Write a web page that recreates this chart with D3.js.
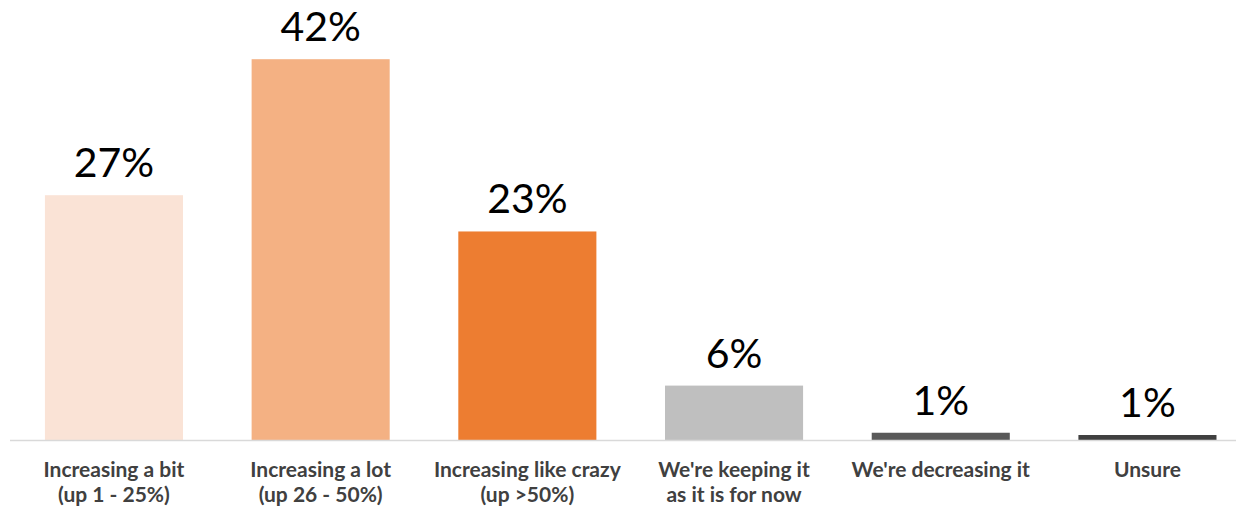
<!DOCTYPE html>
<html>
<head>
<meta charset="utf-8">
<script src="https://cdn.jsdelivr.net/npm/d3@7"></script>
<style>
  html, body { margin: 0; padding: 0; background: #fff; }
  svg { display: block; }
</style>
</head>
<body>
<svg id="chart" width="1236" height="508"></svg>
<script>
const categories = [
  ["Increasing a bit", "(up 1 - 25%)"],
  ["Increasing a lot", "(up 26 - 50%)"],
  ["Increasing like crazy", "(up >50%)"],
  ["We're keeping it", "as it is for now"],
  ["We're decreasing it"],
  ["Unsure"]
];
const values = [27, 42, 23, 6, 0.8, 0.55];
const valueLabels = ["27%", "42%", "23%", "6%", "1%", "1%"];
const colors = ["#FAE3D6", "#F4B183", "#ED7D31", "#BFBFBF", "#595959", "#404040"];

const svg = d3.select("#chart");
const keys = categories.map((c, i) => i);

const x = d3.scaleBand().domain(keys).range([10.6, 1250.8]).paddingInner(0.332).paddingOuter(0.166);
const y = d3.scaleLinear().domain([0, 45]).range([440, 32]);

svg.append("g").selectAll("rect").data(values).join("rect")
  .attr("x", (d, i) => x(i))
  .attr("width", x.bandwidth())
  .attr("y", d => y(d))
  .attr("height", d => y(0) - y(d))
  .attr("fill", (d, i) => colors[i]);

svg.append("line")
  .attr("x1", 10).attr("x2", 1236)
  .attr("y1", y(0) + 0.5).attr("y2", y(0) + 0.5)
  .attr("stroke", "#D9D9D9").attr("stroke-width", 1.5);

svg.append("g").selectAll("text").data(values).join("text")
  .attr("x", (d, i) => x(i) + x.bandwidth() / 2)
  .attr("y", d => y(d) - 18)
  .attr("text-anchor", "middle")
  .attr("font-family", "Lato, 'Noto Sans', sans-serif")
  .attr("font-size", 41)
  .attr("fill", "#000")
  .text((d, i) => valueLabels[i]);

const lines = [];
categories.forEach((c, i) => c.forEach((t, j) => lines.push({ i, j, t })));

svg.append("g").selectAll("text").data(lines).join("text")
  .attr("x", d => x(d.i) + x.bandwidth() / 2)
  .attr("y", d => 477 + d.j * 25)
  .attr("text-anchor", "middle")
  .attr("font-family", "Lato, 'Noto Sans', sans-serif")
  .attr("font-weight", "bold")
  .attr("font-size", 21)
  .attr("fill", "#404040")
  .text(d => d.t);
</script>
</body>
</html>
